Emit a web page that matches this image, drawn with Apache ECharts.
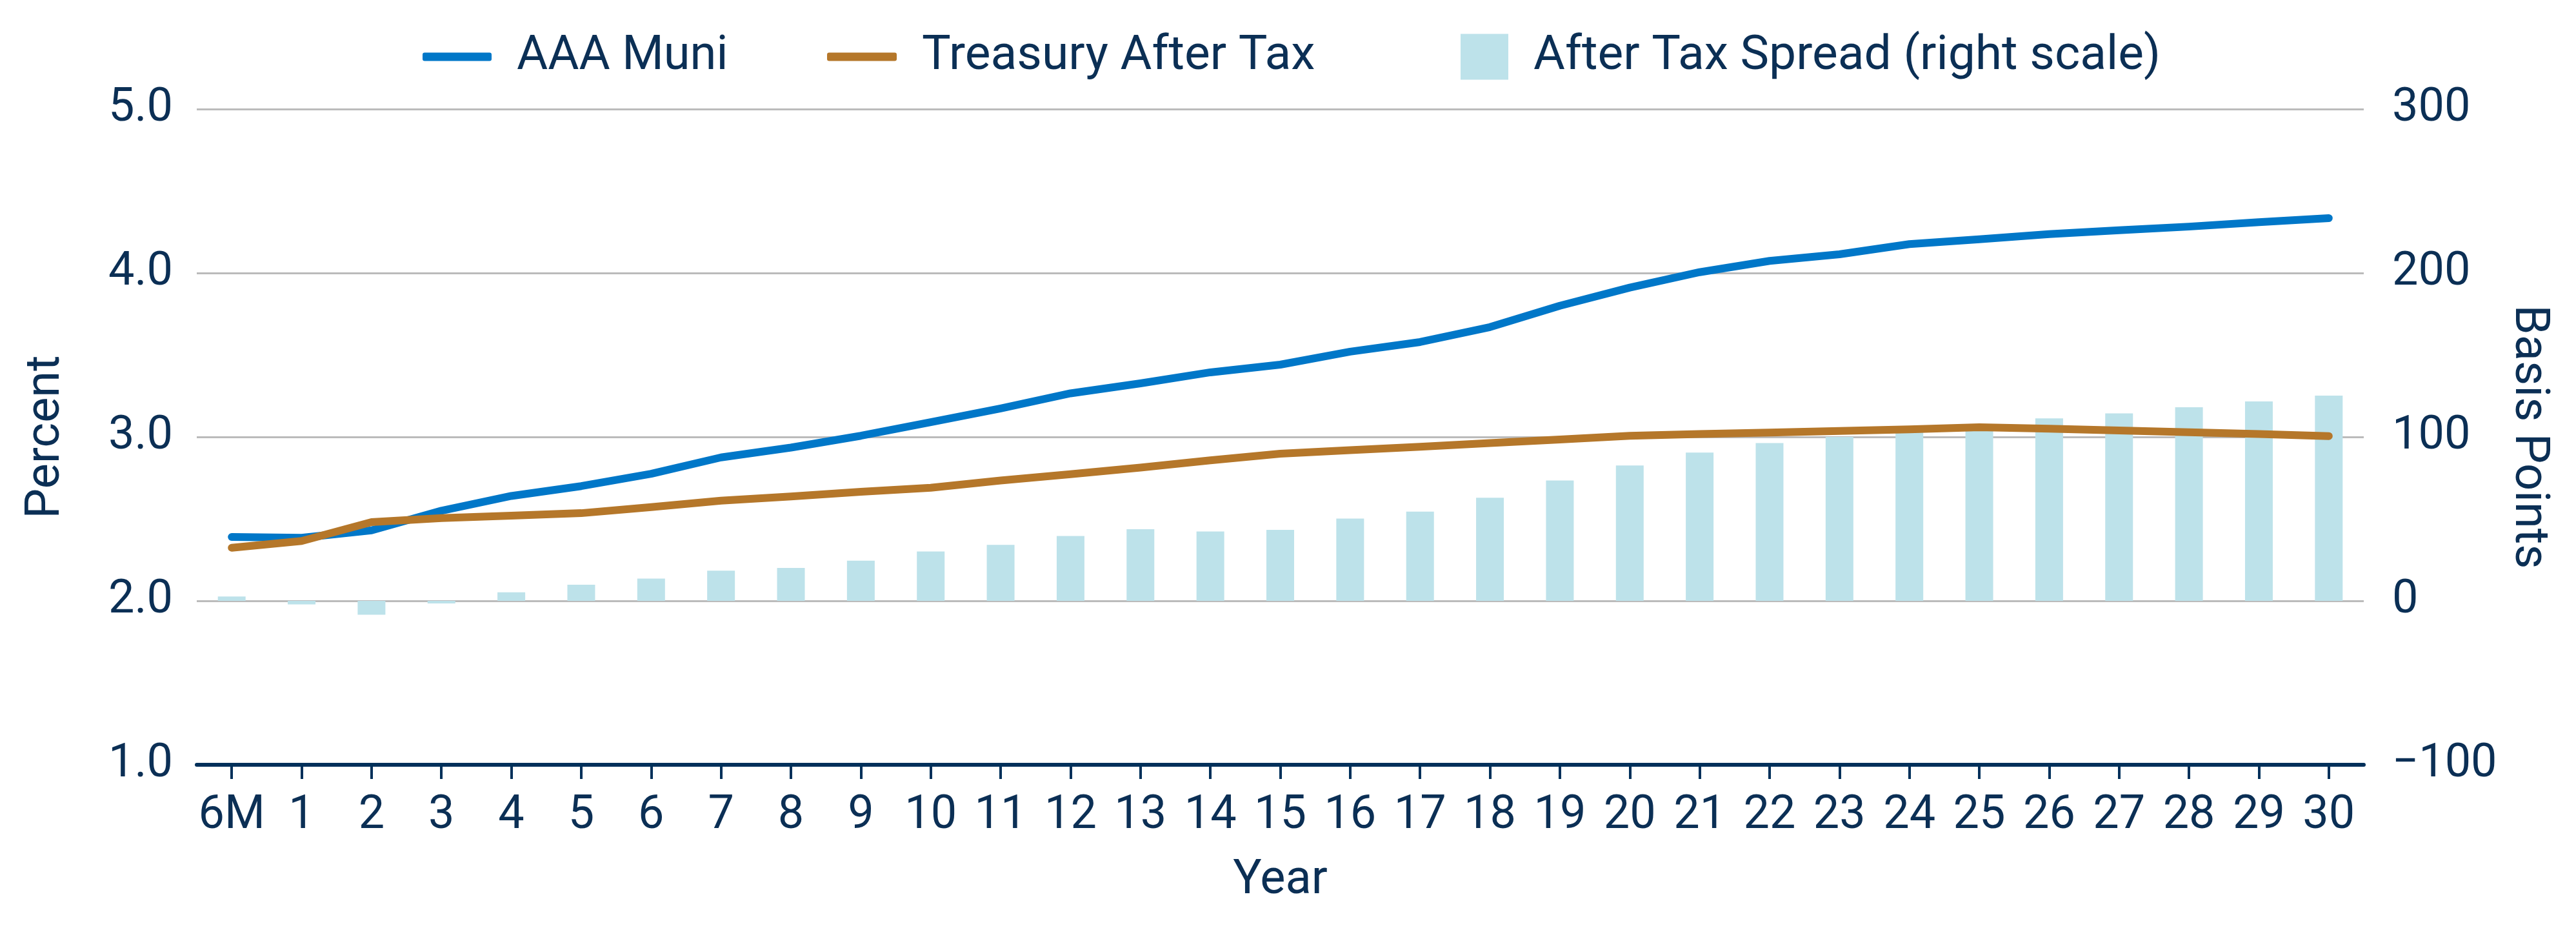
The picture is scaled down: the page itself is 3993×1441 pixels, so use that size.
<!DOCTYPE html>
<html>
<head>
<meta charset="utf-8">
<script src="https://cdn.jsdelivr.net/npm/echarts@6/dist/echarts.min.js"></script>
<style>
html,body{margin:0;padding:0;background:#fff;}
#chart{width:3993px;height:1441px;}
</style>
</head>
<body>
<div id="chart"></div>
<script>
const categories = ['6M','1','2','3','4','5','6','7','8','9','10','11','12','13','14','15','16','17','18','19','20','21','22','23','24','25','26','27','28','29','30'];
const aaaMuni = [2.39,2.385,2.43,2.55,2.64,2.70,2.775,2.875,2.935,3.007,3.09,3.174,3.266,3.327,3.394,3.441,3.52,3.579,3.67,3.80,3.911,4.005,4.074,4.114,4.176,4.206,4.237,4.261,4.283,4.31,4.335];
const treasuryAfterTax = [2.324,2.365,2.48,2.505,2.52,2.535,2.572,2.611,2.637,2.665,2.69,2.734,2.773,2.813,2.857,2.898,2.919,2.94,2.963,2.984,3.007,3.018,3.027,3.036,3.046,3.059,3.05,3.039,3.029,3.018,3.005];
const afterTaxSpread = [2.7,-2.2,-8.5,-1.6,5.2,9.8,13.6,18.4,20.1,24.5,30.1,34.2,39.6,43.7,42.3,43.3,50.2,54.4,62.9,73.4,82.6,90.5,96.3,100,103,105,111.3,114.4,118.1,121.7,125.2];
const seriesNames = ['AAA Muni','Treasury After Tax','After Tax Spread (right scale)'];

const NAVY = '#0b2f55';
const FONT = 'Roboto';
const chart = echarts.init(document.getElementById('chart'), null, {renderer:'canvas'});

const legendText = {color: NAVY, fontFamily: FONT, fontSize: 74, lineHeight: 76, padding: [0,0,0,34]};

chart.setOption({
  backgroundColor: '#ffffff',
  animation: false,
  textStyle: {fontFamily: FONT, color: NAVY},
  legend: [
    {data:[seriesNames[0]], left: 655, top: 50, padding: 0, itemWidth: 107, itemHeight: 13, icon: 'roundRect', textStyle: legendText, selectedMode: false},
    {data:[seriesNames[1]], left: 1282, top: 50, padding: 0, itemWidth: 108, itemHeight: 13, icon: 'roundRect', textStyle: Object.assign({}, legendText, {fontSize: 75}), selectedMode: false},
    {data:[seriesNames[2]], left: 2264, top: 50, padding: 0, itemWidth: 74, itemHeight: 71, icon: 'rect', textStyle: Object.assign({}, legendText, {fontSize: 75}), selectedMode: false}
  ],
  grid: {left: 305, right: 329, top: 169, bottom: 256, containLabel: false},
  xAxis: {
    type: 'category',
    data: categories,
    boundaryGap: true,
    name: 'Year',
    nameLocation: 'middle',
    nameGap: 143,
    nameTextStyle: {color: NAVY, fontSize: 74, lineHeight: 74, fontFamily: FONT},
    axisLine: {show: true, onZero: false, lineStyle: {color: '#00305a', width: 6}},
    axisTick: {show: true, alignWithLabel: true, length: 22, lineStyle: {color: '#00305a', width: 4}},
    axisLabel: {color: NAVY, fontSize: 72, lineHeight: 72, margin: 44, interval: 0, fontFamily: FONT},
    splitLine: {show: false}
  },
  yAxis: [
    {
      type: 'value', min: 1, max: 5, interval: 1, position: 'left',
      name: 'Percent', nameLocation: 'middle', nameRotate: 90, nameGap: 196,
      nameTextStyle: {color: NAVY, fontSize: 74, lineHeight: 74, fontFamily: FONT},
      axisLine: {show: false}, axisTick: {show: false},
      axisLabel: {color: NAVY, fontSize: 72, margin: 37, fontFamily: FONT, formatter: v => v.toFixed(1)},
      splitLine: {show: true, lineStyle: {color: '#bbbbbb', width: 3}}
    },
    {
      type: 'value', min: -100, max: 300, interval: 100, position: 'right',
      name: 'Basis Points', nameLocation: 'middle', nameRotate: -90, nameGap: 216,
      nameTextStyle: {color: NAVY, fontSize: 74, lineHeight: 74, fontFamily: FONT},
      axisLine: {show: false}, axisTick: {show: false},
      axisLabel: {color: NAVY, fontSize: 72, margin: 44, fontFamily: FONT, formatter: v => v < 0 ? '\u2212' + Math.abs(v) : String(v)},
      splitLine: {show: false}
    }
  ],
  series: [
    {
      name: seriesNames[2], type: 'bar', yAxisIndex: 1, data: afterTaxSpread,
      barWidth: 43, itemStyle: {color: '#bde2ea'}, z: 1
    },
    {
      name: seriesNames[0], type: 'line', yAxisIndex: 0, data: aaaMuni,
      showSymbol: false, symbol: 'none', color: '#0077c8',
      lineStyle: {color: '#0077c8', width: 12, cap: 'round', join: 'round'}, z: 3
    },
    {
      name: seriesNames[1], type: 'line', yAxisIndex: 0, data: treasuryAfterTax,
      showSymbol: false, symbol: 'none', color: '#b5772a',
      lineStyle: {color: '#b5772a', width: 12, cap: 'round', join: 'round'}, z: 4
    }
  ]
});
</script>
</body>
</html>
